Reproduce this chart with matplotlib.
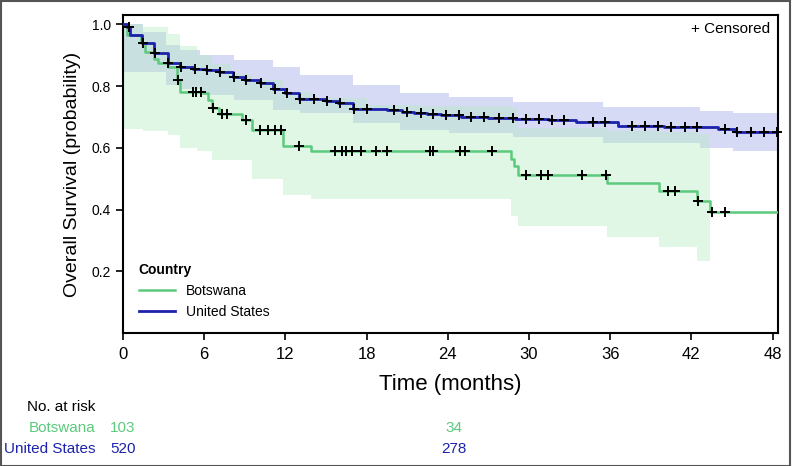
import numpy as np
import matplotlib
matplotlib.use("Agg")
import matplotlib.pyplot as plt
from matplotlib.patches import Rectangle

# Kaplan-Meier curves (months, survival)
bw_t = [0, 0.3, 1.3, 1.6, 2.3, 2.6, 3.3, 4.0, 4.2, 5.9, 6.3, 6.6, 7.1, 8.8, 9.5,
        11.8, 13.9, 28.7, 28.9, 29.2, 35.8, 39.6, 42.4, 43.4]
bw_s = [1.0, 0.965, 0.938, 0.911, 0.889, 0.873, 0.862, 0.82, 0.781, 0.776, 0.755,
        0.728, 0.71, 0.69, 0.658, 0.607, 0.591, 0.565, 0.54, 0.513, 0.486, 0.461,
        0.427, 0.393]
bw_cens = [4.1, 5.2, 5.4, 5.8, 6.65, 7.3, 7.65, 9.1, 10.1, 10.7, 11.2, 11.7, 13.0,
           15.7, 16.2, 16.5, 16.9, 17.6, 18.7, 19.5, 22.7, 22.9, 24.9, 25.3, 27.3,
           29.8, 30.9, 31.4, 33.9, 35.7, 40.3, 40.8, 42.5, 43.5, 44.5]

us_t = [0, 0.3, 0.55, 1.4, 2.3, 3.3, 4.2, 5.2, 6.1, 7.1, 8.1, 9.0, 10.1, 11.1,
        12.0, 13.0, 15.0, 15.9, 17.0, 19.5, 20.6, 21.5, 22.5, 23.5, 25.0, 27.0,
        29.0, 31.5, 33.5, 36.6, 40.0, 44.0, 45.3]
us_s = [1.0, 0.99, 0.965, 0.938, 0.908, 0.875, 0.862, 0.855, 0.851, 0.846, 0.828,
        0.819, 0.811, 0.789, 0.778, 0.757, 0.753, 0.744, 0.727, 0.722, 0.716,
        0.712, 0.709, 0.705, 0.701, 0.697, 0.694, 0.69, 0.685, 0.671, 0.667,
        0.662, 0.65]
us_cens = [0.47, 1.45, 2.35, 3.35, 4.3, 5.3, 6.2, 7.2, 8.2, 9.1, 10.2, 11.2, 12.1,
           13.1, 14.1, 15.1, 16.0, 17.1, 18.0, 20.0, 21.0, 22.0, 22.9, 23.9, 24.8,
           25.75, 26.7, 27.8, 28.8, 29.8, 30.75, 31.7, 32.6, 34.7, 35.6, 37.6,
           38.6, 39.5, 40.5, 41.5, 42.4, 44.5, 45.4, 46.4, 47.4, 48.35]

# confidence bands
bw_ci_t = [0, 1.5, 3.3, 4.2, 5.5, 6.6, 8.0, 9.5, 11.8, 13.9, 18.0, 22.0, 28.7,
           29.2, 35.8, 39.6, 42.4, 43.4]
bw_up = [1.0, 0.99, 0.97, 0.93, 0.9, 0.87, 0.84, 0.82, 0.78, 0.76, 0.74, 0.735,
         0.73, 0.665, 0.655, 0.65, 0.645, 0.645]
bw_lo = [0.66, 0.655, 0.64, 0.6, 0.59, 0.561, 0.561, 0.5, 0.448, 0.434, 0.434,
         0.434, 0.38, 0.346, 0.312, 0.28, 0.232, 0.232]

us_ci_t = [0, 1.5, 3.2, 4.2, 5.7, 8.2, 11.1, 13.1, 17.0, 20.5, 24.1, 28.8, 35.5,
           42.6, 45.1]
us_up = [1.0, 0.975, 0.932, 0.916, 0.9, 0.884, 0.862, 0.835, 0.803, 0.776, 0.766,
         0.749, 0.733, 0.72, 0.712]
us_lo = [0.846, 0.846, 0.803, 0.79, 0.771, 0.755, 0.723, 0.712, 0.679, 0.658,
         0.647, 0.636, 0.615, 0.598, 0.588]

risk_times = [0, 24]
bw_risk = [103, 34]
us_risk = [520, 278]

x_max = 48.4
green = '#5cc97d'
blue = '#1c22ab'
narrow = ['Liberation Sans Narrow', 'Liberation Sans', 'DejaVu Sans']
regular = ['Liberation Sans', 'DejaVu Sans']

def step_at(t, s, x):
    idx = np.searchsorted(t, x, side='right') - 1
    return np.asarray(s)[idx]

fig = plt.figure(figsize=(7.92, 4.66), dpi=100)
fig.patches.append(Rectangle((0.001, 0.001), 0.997, 0.997, transform=fig.transFigure,
                             fill=False, edgecolor='#555555', linewidth=1.5))
ax = fig.add_axes([123/792, 1-333/466, 655/792, 318/466])

# bands
ut = us_ci_t + [x_max]
ax.fill_between(ut, us_lo + [us_lo[-1]], us_up + [us_up[-1]], step='post',
                color='#d6daf5', linewidth=0, zorder=1)
ax.fill_between(bw_ci_t, bw_lo, bw_up, step='post', color=(0.70, 0.92, 0.76),
                alpha=0.4, linewidth=0, zorder=2)

# curves
ax.step(bw_t + [x_max], bw_s + [bw_s[-1]], where='post', color=green, lw=1.8,
        zorder=3, label='Botswana')
ax.step(us_t + [x_max], us_s + [us_s[-1]], where='post', color=blue, lw=2.0,
        zorder=4, label='United States')
ax.plot(bw_cens, step_at(bw_t, bw_s, bw_cens), '+', color='black', ms=7, mew=1.4,
        zorder=5, clip_on=False)
ax.plot(us_cens, step_at(us_t, us_s, us_cens), '+', color='black', ms=7, mew=1.4,
        zorder=5, clip_on=False)

ax.set_xlim(0, x_max)
ax.set_ylim(0, 1.03)
ax.set_xticks(np.arange(0, 49, 6))
ax.set_yticks([0.2, 0.4, 0.6, 0.8, 1.0])
ax.set_yticklabels(['0.2', '0.4', '0.6', '0.8', '1.0'], family=regular, fontsize=10)
ax.set_xticklabels([str(v) for v in range(0, 49, 6)], family=narrow, fontsize=12)
ax.tick_params(direction='out', length=5, width=1.2, color='black')
ax.tick_params(axis='x', pad=5)
for sp in ax.spines.values():
    sp.set_linewidth(1.5)
ax.set_xlabel('Time (months)', family=narrow, fontsize=16, labelpad=9)
ax.set_ylabel('Overall Survival (probability)', family=regular, fontsize=14, labelpad=8)

ax.text(0.988, 0.955, '+ Censored', transform=ax.transAxes, ha='right', va='center',
        family=regular, fontsize=11)

leg = ax.legend(loc='lower left', bbox_to_anchor=(0.005, 0.005), frameon=False,
                title='Country', alignment='left', handlelength=2.6,
                prop={'family': regular, 'size': 10},
                title_fontproperties={'family': regular, 'weight': 'bold', 'size': 10})

# number at risk table
fig.text(95/792, 1-407/466, 'No. at risk', ha='right', va='center', family=narrow, fontsize=11)
fig.text(95/792, 1-428/466, 'Botswana', ha='right', va='center', family=narrow,
         fontsize=11, color=green)
fig.text(95/792, 1-449/466, 'United States', ha='right', va='center', family=narrow,
         fontsize=11, color=blue)
for t, b, u in zip(risk_times, bw_risk, us_risk):
    xf = (ax.transData.transform((t, 0))[0] + (6 if t > 0 else 0)) / fig.bbox.width
    fig.text(xf, 1-428/466, str(b), ha='center', va='center', family=narrow,
             fontsize=11, color=green)
    fig.text(xf, 1-449/466, str(u), ha='center', va='center', family=narrow,
             fontsize=11, color=blue)

fig.savefig('out.png', dpi=100)
